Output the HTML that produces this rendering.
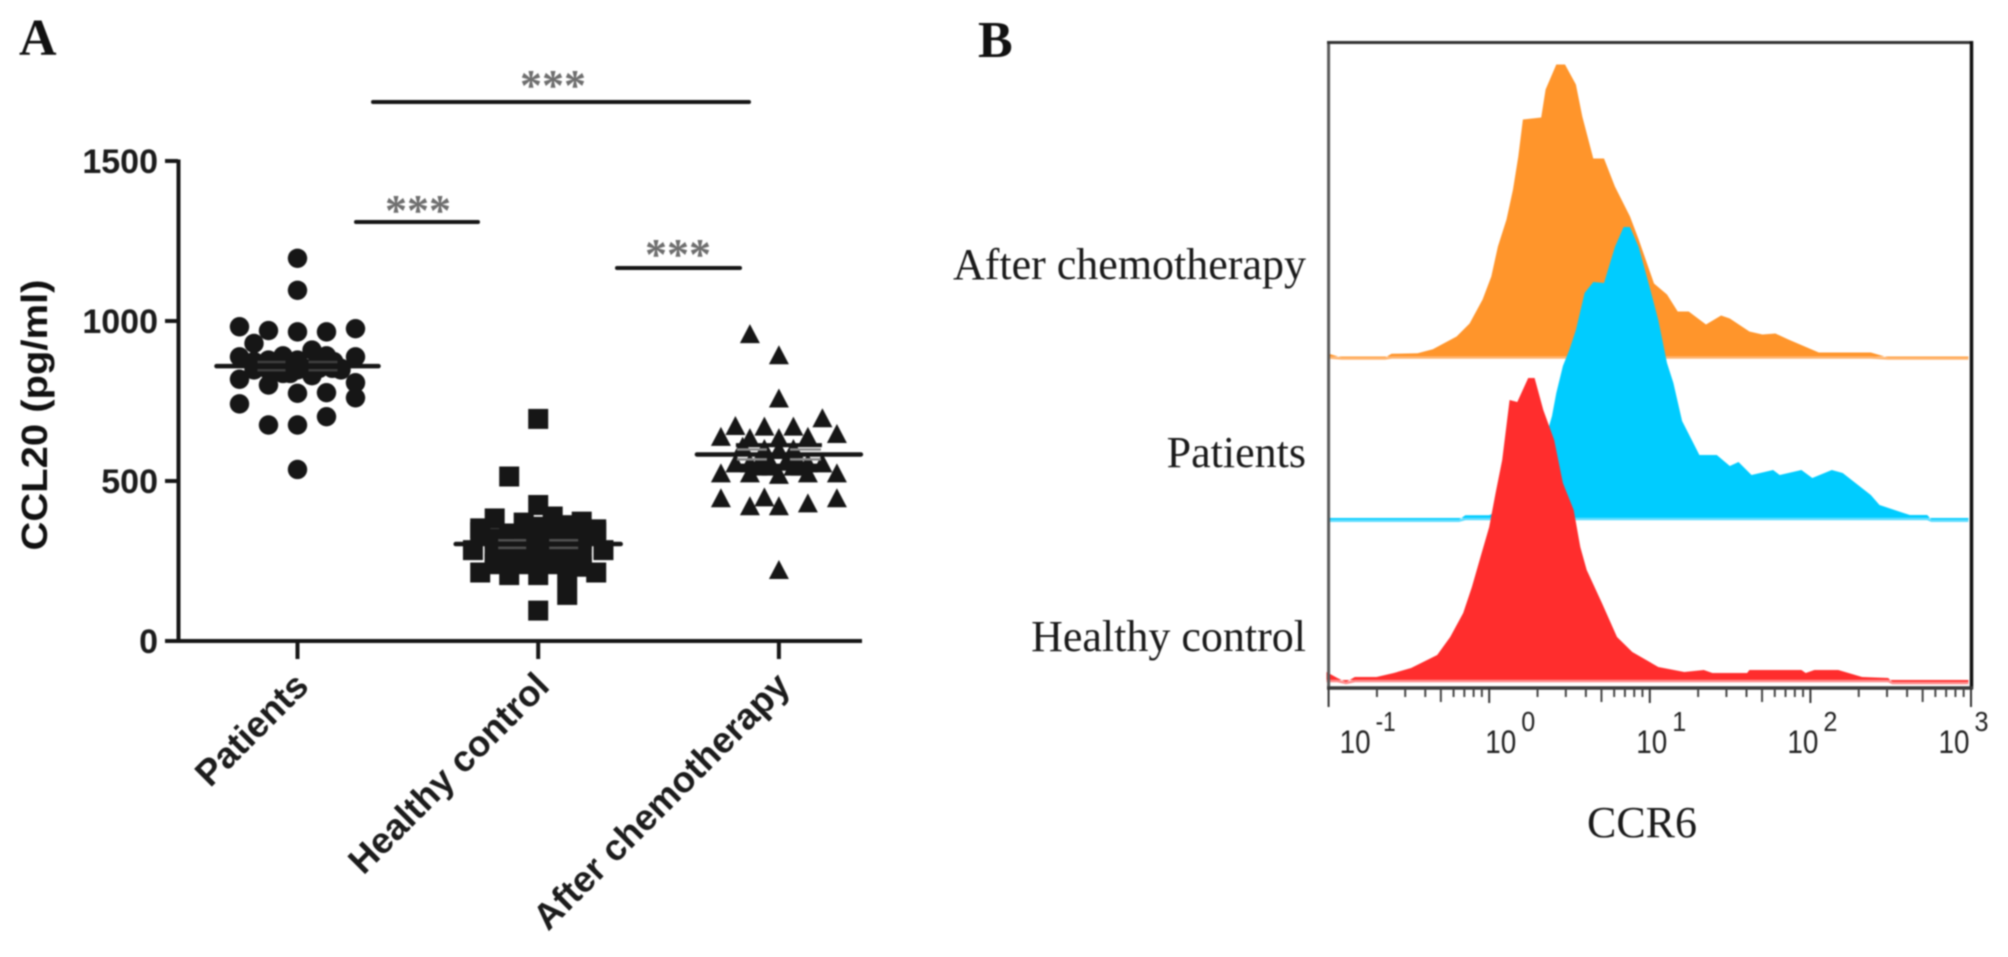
<!DOCTYPE html>
<html lang="en">
<head>
<meta charset="utf-8">
<title>CCL20 and CCR6 chart</title>
<style>
html,body{margin:0;padding:0;background:#fff;width:2008px;height:957px;overflow:hidden}
svg{display:block;filter:blur(0.7px)}
.sans{font-family:"Liberation Sans",Arial,sans-serif}
.serif{font-family:"Liberation Serif","Times New Roman",serif}
</style>
</head>
<body>
<svg id="chart" width="2008" height="957" viewBox="0 0 2008 957" xmlns="http://www.w3.org/2000/svg">
<rect width="2008" height="957" fill="#fff"/>
<text class="serif" x="19" y="55" font-size="52" font-weight="bold" fill="#111">A</text>
<text class="serif" x="978" y="57" font-size="52" font-weight="bold" fill="#111">B</text>
<g id="panelA"></g>
<g id="panelB"></g>
</svg>
<script>
// ---------- Panel A data ----------
const categories = ["Patients", "Healthy control", "After chemotherapy"];
const yTicks = [0, 500, 1000, 1500];
const patientsValues = [1196,1096,982,970,966,966,976,930,888,888,909,891,878,891,868,818,807,760,800,774,776,741,675,675,701,536,862,852,836,847,829,852,873,847,873,857,873,868,878,852,873,852,847,847,836,852,852];
const patientsSlots = [0,0,-4,-2,0,2,4,-3,-4,4,1,-1,-2,2,0,-4,4,4,-2,0,2,-4,-2,0,2,0,-3,-1.5,-1,0,1,3,2.5,-2,-3,-2.5,-1.5,-0.5,0,0.5,1.5,2.4,3,-3,-0.5,1,1.5];
const controlValues = [694,514,425,383,370,373,352,349,389,362,336,357,284,284,214,206,206,206,214,144,95,295,264,316,295,305,264,295,305,243,243,243,336,336,264,232,316,240,265,320,290,260,265,320,240,260,290,240,340,265,240,340,300,240,240,265,320,340,340];
const controlSlots = [0,-2,0,-3,-1,3,-4,4,1,2,-2,0,-4.5,4.5,-4,-2,0,2,4,2,0,-3,-2,0,-1,1,2,1,3,-1,1,-3,-1,1,3,3,-2,-3,-3,-3,-2,-2,-1,-1,-1,0,0,0,0,1,1,1,2,2,3,3,3,-4,4];
const chemoValues = [959,893,758,696,672,670,670,647,638,634,634,638,524,524,519,524,524,446,421,449,421,430,446,222,607,576,597,576,555,555,555,555,560,560,600,600,545,545,545,545];
const chemoSlots = [-2,0,0,3,-3,-1,1,4,-4,-2,0,2,-4,-2,0,2,4,-4,-2,-1,0,2,4,0,-2.5,-1,0,1,-3,3,-2,2,-0.6,0.5,-1,1,-1.5,-0.5,1,1.5];
const meanValues = [859, 303, 583];
const semValues = [26, 24, 31];
const chemoOuterWhiskers = [612, 548];

// ---------- Panel B data ----------
const chemoLog = [-0.999,-0.918,-0.648,-0.608,-0.446,-0.351,-0.203,-0.122,-0.041,0.013,0.054,0.108,0.148,0.181,0.21,0.324,0.351,0.418,0.472,0.54,0.58,0.648,0.715,0.783,0.877,0.931,1.026,1.107,1.174,1.242,1.35,1.444,1.498,1.62,1.701,1.782,1.863,2.052,2.376,2.484,2.984];
const chemoCount = [2.7,-1,-1,2.7,3.3,7.3,20,33,57,80,110,137,167,200,237,239,267,292,292,272,240,198,198,170,140,117,73,62,45,45,32,41,38,25,22,23,17,4,4,-1,-1];
const patientsLog = [-0.999,-0.189,-0.149,0,0.216,0.351,0.391,0.418,0.459,0.499,0.54,0.594,0.648,0.715,0.783,0.837,0.877,0.931,0.999,1.053,1.107,1.147,1.201,1.309,1.417,1.498,1.552,1.633,1.768,1.809,1.944,2.012,2.133,2.201,2.376,2.43,2.619,2.727,2.754,2.984];
const patientsCount = [-1.7,-1.7,2.7,2.7,20,80,102,125,152,168,188,225,236,235,271,291,291,271,231,198,155,135,97,63,63,52,56,43,48,43,48,40,48,45,23,13,3,3,-1.7,-1.7];
const controlLog = [-1.013,-0.945,-0.891,-0.837,-0.702,-0.594,-0.486,-0.324,-0.243,-0.162,-0.108,-0.054,0,0.04,0.081,0.127,0.175,0.243,0.283,0.337,0.405,0.459,0.526,0.567,0.607,0.702,0.796,0.891,1.053,1.215,1.336,1.39,1.606,1.62,1.944,1.971,2.025,2.174,2.322,2.484,2.511,2.984];
const controlCount = [8,2,-2,3,3,7,12,25,43,67,93,123,153,187,220,280,278,302,302,270,240,197,170,133,110,77,43,28,13,8,10,7,7,10,10,7,10,10,3,2,-2,-2];
const xExponents = [-1, 0, 1, 2, 3];

const NS = "http://www.w3.org/2000/svg";
function make(tag, parent, attrs, text) {
  const el = document.createElementNS(NS, tag);
  for (const k in attrs) el.setAttribute(k, attrs[k]);
  if (text !== undefined) el.textContent = text;
  parent.appendChild(el);
  return el;
}

// ---------- Panel A axes ----------
const A = document.getElementById("panelA");
const yA = v => 641 - v * 0.32;
const xA = i => 297.5 + i * 240.7;
const slotStep = 14.5;
const INK = "#161616";

let axisLine = make("path", A, {d:`M178.5 ${yA(1500)-1.5}V${yA(0)}M178 ${yA(0)}H862`, stroke:INK, "stroke-width":4, fill:"none"});



yTicks.forEach(t => {
  const tick = make("line", A, {x1:165, x2:178, y1:yA(t), y2:yA(t), stroke:INK, "stroke-width":4});
  
  
  const lab = make("text", A, {x:158, y:yA(t)+12, "text-anchor":"end", class:"sans", "font-size":34, "font-weight":"bold", fill:"#1c1c1c"}, String(t));
  
  
});

const yTitle = make("text", A, {transform:"translate(47 415) rotate(-90)", "text-anchor":"middle", class:"sans", "font-size":36, "font-weight":"bold", fill:"#111", textLength:271, lengthAdjust:"spacingAndGlyphs"}, "CCL20 (pg/ml)");



categories.forEach((c, i) => {
  const x = xA(i);
  const tick = make("line", A, {x1:x, x2:x, y1:yA(0), y2:659, stroke:INK, "stroke-width":4});
  
  
  const lab = make("text", A, {transform:`translate(${x+13} 688) rotate(-45)`, "text-anchor":"end", class:"sans", "font-size":36.5, "font-weight":"bold", fill:"#1c1c1c"}, c);
  
  
});

// ---------- Panel A markers ----------
patientsValues.forEach((v, j) => {
  const m = make("circle", A, {cx:xA(0)+patientsSlots[j]*slotStep, cy:yA(v), r:9.7, fill:INK});
  
  
});
controlValues.forEach((v, j) => {
  const m = make("rect", A, {x:xA(1)+controlSlots[j]*slotStep-10, y:yA(v)-10, width:20, height:20, fill:INK});
  
  
});
chemoValues.forEach((v, j) => {
  const cx = xA(2)+chemoSlots[j]*slotStep, cy = yA(v);
  const m = make("polygon", A, {points:`${cx},${cy-10} ${cx+10},${cy+9} ${cx-10},${cy+9}`, fill:INK});
  
  
});

// ---------- Panel A mean lines and SEM whiskers ----------
chemoOuterWhiskers.forEach(v => {
  const w = make("line", A, {x1:xA(2)-43, x2:xA(2)+43, y1:yA(v), y2:yA(v), stroke:INK, "stroke-width":4});
  
  
});
const meanHalf = [81, 82.5, 82];
const semHalf = [40, 40, 42];
const semOpacity = [0.35, 0.5, 1];
meanValues.forEach((m, i) => {
  const x = xA(i);
  [1,-1].forEach(sign => {
    const gap = make("line", A, {x1:x-semHalf[i], x2:x-12, y1:yA(m+sign*semValues[i]*0.5), y2:yA(m+sign*semValues[i]*0.5), stroke:"#8a8a8a", "stroke-width":2.5, opacity:semOpacity[i]});
    
    
    const gap2 = make("line", A, {x1:x+11, x2:x+semHalf[i], y1:yA(m+sign*semValues[i]*0.5), y2:yA(m+sign*semValues[i]*0.5), stroke:"#8a8a8a", "stroke-width":2.5, opacity:semOpacity[i]});
    
    
  });
  const line = make("line", A, {x1:x-meanHalf[i], x2:x+meanHalf[i], y1:yA(m), y2:yA(m), stroke:INK, "stroke-width":4.5, "stroke-linecap":"round"});
  
  
});

// ---------- Significance brackets ----------
const sigLines = [[373, 749, 102], [356, 478, 222], [617, 740, 268]];
const sigStars = [[553, 100], [418, 225], [678, 269]];
sigLines.forEach((b, i) => {
  const line = make("line", A, {x1:b[0], x2:b[1], y1:b[2], y2:b[2], stroke:INK, "stroke-width":4, "stroke-linecap":"round"});
  
  
  const star = make("text", A, {x:sigStars[i][0], y:sigStars[i][1], "text-anchor":"middle", class:"serif", "font-size":44, "font-weight":"bold", fill:"#6e6e6e"}, "***");
  
  
});

// ---------- Panel B ----------
const B = document.getElementById("panelB");
const xB = lg => 1328.6 + (lg + 1) * 160.6;
const yB = (c, base) => base - c;

function histogram(logs, counts, base, fill, edge, name) {
  let d = `M${xB(logs[0]).toFixed(1)} ${base}`;
  logs.forEach((l, i) => { d += `L${xB(l).toFixed(1)} ${yB(counts[i], base).toFixed(1)}`; });
  d += `L${xB(logs[logs.length-1]).toFixed(1)} ${base}Z`;
  const shape = make("path", B, {d, fill});
  
  
  const pts = logs.map((l, i) => `${xB(l).toFixed(1)},${(yB(Math.min(counts[i], 0), base) + 1).toFixed(1)}`).join(" ");
  const line = make("polyline", B, {points:pts, fill:"none", stroke:edge, "stroke-width":2.5});
  
  
}
histogram(chemoLog, chemoCount, 356.5, "#FF952B", "#FFB570", "after-chemotherapy-histogram");
histogram(patientsLog, patientsCount, 518, "#00CCFF", "#5FDDFF", "patients-histogram");
histogram(controlLog, controlCount, 680, "#FF2D2D", "#FF8A8A", "healthy-control-histogram");

let frameLeft = make("line", B, {x1:1328.6, x2:1328.6, y1:42, y2:687, stroke:"#5a5a5a", "stroke-width":3});


let frameTop = make("line", B, {x1:1327, x2:1972, y1:42.5, y2:42.5, stroke:"#333", "stroke-width":3});


let frameR = make("line", B, {x1:1971.5, x2:1971.5, y1:41, y2:689, stroke:"#111", "stroke-width":3.5});


let xAxisB = make("line", B, {x1:1327, x2:1973, y1:688, y2:688, stroke:"#3a3a3a", "stroke-width":3.5});



xExponents.forEach((e, i) => {
  const major = make("line", B, {x1:xB(e), x2:xB(e), y1:688, y2:e === -1 || e === 3 ? 707 : 703, stroke:"#333", "stroke-width":2});
  
  
  if (i < xExponents.length - 1) {
    for (let m = 2; m <= 9; m++) {
      const x = xB(e + Math.log10(m));
      const minor = make("line", B, {x1:x, x2:x, y1:688, y2:m === 5 ? 702 : 697, stroke:"#444", "stroke-width":2});
      
      
    }
  }
  const shift = e === -1 ? 11 : -4 - e * 9.5;
  const base = make("text", B, {x:xB(e)+shift, y:753, class:"sans", "font-size":32, fill:"#222", textLength:31, lengthAdjust:"spacingAndGlyphs"}, "10");
  
  
  const sup = make("text", B, {x:xB(e)+shift+36, y:731, class:"sans", "font-size":28, fill:"#222", textLength:e < 0 ? 20 : 14, lengthAdjust:"spacingAndGlyphs"}, String(e));
  
  
});

const sampleLabels = ["After chemotherapy", "Patients", "Healthy control"];
const sampleBaselines = [279, 467, 651];
sampleLabels.forEach((s, i) => {
  const t = make("text", B, {x:1306, y:sampleBaselines[i], "text-anchor":"end", class:"serif", "font-size":44, fill:"#1a1a1a"}, s);
  
  
});
const xTitleB = make("text", B, {x:1642, y:837, "text-anchor":"middle", class:"serif", "font-size":44, fill:"#1a1a1a"}, "CCR6");


</script>
</body>
</html>
